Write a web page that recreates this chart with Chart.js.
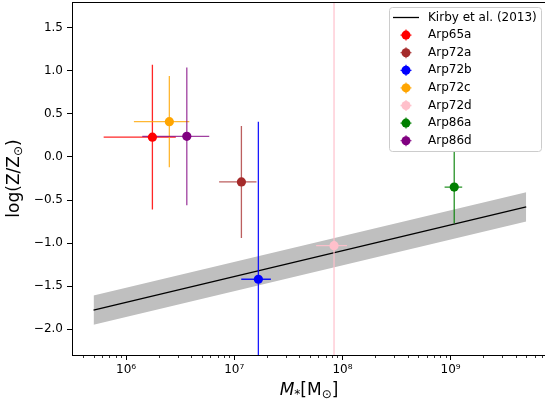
<!DOCTYPE html>
<html>
<head>
<meta charset="utf-8">
<script src="https://cdn.jsdelivr.net/npm/chart.js@4.4.1/dist/chart.umd.min.js"></script>
<style>
html, body { margin: 0; padding: 0; background: #fff; overflow: hidden; }
</style>
</head>
<body>
<canvas id="chart" width="545" height="407"></canvas>
<script>
// galaxies
const names = ['Arp65a', 'Arp72a', 'Arp72b', 'Arp72c', 'Arp72d', 'Arp86a', 'Arp86d'];
const colors = ['#ff0000', '#a52a2a', '#0000ff', '#ffa500', '#ffc0cb', '#008000', '#800080'];
const barColors = ['rgba(255,0,0,0.85)', 'rgba(165,42,42,0.75)', 'rgba(0,0,255,0.9)', 'rgba(255,165,0,0.8)',
    'rgba(255,192,203,0.9)', 'rgba(0,128,0,0.85)', 'rgba(128,0,128,0.75)'];
const mass = [1.75e6, 1.164e7, 1.67e7, 2.51e6, 8.36e7, 1.08e9, 3.64e6];
const massErr = [1.13e6, 4.4e6, 5.1e6, 1.33e6, 2.65e7, 2.0e8, 2.23e6];
const metal = [0.23, -0.29, -1.42, 0.41, -1.03, -0.35, 0.24];
const metalErr = [0.84, 0.65, 1.83, 0.53, 5.0, 0.42, 0.80];

// Kirby et al. (2013) relation and its scatter band
const kirbyMass = [5e5, 5e9];
const kirbyZ = [-1.78, -0.58];
const kirbyUpper = [-1.61, -0.41];
const kirbyLower = [-1.95, -0.75];

// axes
const xTickValues = [1e6, 1e7, 1e8, 1e9];
const xTickLabels = ['10\u2076', '10\u2077', '10\u2078', '10\u2079'];
const yTickValues = [-2.0, -1.5, -1.0, -0.5, 0.0, 0.5, 1.0, 1.5];
const xMin = 3.16e5, xMax = 7.46e9;
const yMin = -2.30, yMax = 1.80;

const FONT = "'DejaVu Sans', sans-serif";

function pts(xs, ys) {
    return xs.map((x, i) => ({ x: x, y: ys[i] }));
}

const datasets = [
    {
        label: 'Kirby et al. (2013)', data: pts(kirbyMass, kirbyZ), showLine: true,
        borderColor: '#000', borderWidth: 1.3, pointRadius: 0, fill: false, order: 5
    },
    {
        label: 'upper', data: pts(kirbyMass, kirbyUpper), showLine: true, borderWidth: 0,
        pointRadius: 0, backgroundColor: '#bfbfbf', fill: '+1', order: 10
    },
    {
        label: 'lower', data: pts(kirbyMass, kirbyLower), showLine: true, borderWidth: 0,
        pointRadius: 0, fill: false, order: 10
    }
];
names.forEach((n, i) => {
    datasets.push({
        label: n, data: [{ x: mass[i], y: metal[i] }],
        backgroundColor: colors[i], borderColor: colors[i], borderWidth: 0,
        pointRadius: 4.6, order: 0
    });
});

function drawParts(ctx, parts, cx, cy) {
    let total = 0;
    parts.forEach(p => { ctx.font = p.font; p.w = ctx.measureText(p.t).width; total += p.w; });
    let x = cx - total / 2;
    parts.forEach(p => {
        ctx.font = p.font;
        ctx.fillText(p.t, x, cy + (p.dy || 0));
        x += p.w;
    });
}

// error bars, drawn after the Kirby line and before the markers
const errorBars = {
    id: 'errorBars',
    afterDatasetDraw(chart, args) {
        if (args.index !== 0) return;
        const ctx = chart.ctx, xs = chart.scales.x, ys = chart.scales.y, a = chart.chartArea;
        ctx.save();
        ctx.beginPath();
        ctx.rect(a.left, a.top, a.right - a.left, a.bottom - a.top);
        ctx.clip();
        ctx.lineWidth = 1.3;
        names.forEach((n, i) => {
            const px = xs.getPixelForValue(mass[i]);
            const py = ys.getPixelForValue(metal[i]);
            ctx.strokeStyle = barColors[i];
            ctx.beginPath();
            ctx.moveTo(xs.getPixelForValue(mass[i] - massErr[i]), py);
            ctx.lineTo(xs.getPixelForValue(mass[i] + massErr[i]), py);
            ctx.moveTo(px, ys.getPixelForValue(metal[i] - metalErr[i]));
            ctx.lineTo(px, ys.getPixelForValue(metal[i] + metalErr[i]));
            ctx.stroke();
        });
        ctx.restore();
    }
};

const decorations = {
    id: 'decorations',
    afterDraw(chart) {
        const ctx = chart.ctx, xs = chart.scales.x, a = chart.chartArea;
        ctx.save();
        // top spine
        ctx.strokeStyle = '#000';
        ctx.lineWidth = 1;
        ctx.beginPath();
        ctx.moveTo(a.left, Math.round(a.top) + 0.5);
        ctx.lineTo(a.right, Math.round(a.top) + 0.5);
        ctx.stroke();
        // minor x ticks
        ctx.lineWidth = 0.8;
        ctx.beginPath();
        for (let d = 5; d <= 9; d++) {
            for (let k = 2; k <= 9; k++) {
                const v = k * Math.pow(10, d);
                if (v < xs.min || v > xs.max) continue;
                const p = Math.round(xs.getPixelForValue(v)) + 0.5;
                ctx.moveTo(p, a.bottom);
                ctx.lineTo(p, a.bottom + 3);
            }
        }
        ctx.stroke();

        // axis titles
        ctx.fillStyle = '#000';
        ctx.textBaseline = 'middle';
        ctx.textAlign = 'left';
        const big = '17px ' + FONT, small = '12px ' + FONT;
        drawParts(ctx, [
            { t: 'M', font: 'italic ' + big },
            { t: '*', font: small, dy: 4 },
            { t: '[M', font: big },
            { t: '\u2299', font: small, dy: 4 },
            { t: ']', font: big }
        ], 309, 391);
        ctx.save();
        ctx.translate(15, (a.top + a.bottom) / 2);
        ctx.rotate(-Math.PI / 2);
        drawParts(ctx, [
            { t: 'log(Z/Z', font: big },
            { t: '\u2299', font: small, dy: 4 },
            { t: ')', font: big }
        ], 0, 0);
        ctx.restore();

        // legend
        const lx = 389.5, ly = 7.5, lw = 152, lh = 144;
        ctx.fillStyle = 'rgba(255,255,255,0.8)';
        ctx.strokeStyle = '#cccccc';
        ctx.lineWidth = 1;
        ctx.beginPath();
        ctx.roundRect(lx, ly, lw, lh, 3);
        ctx.fill();
        ctx.stroke();
        const rowH = 17.6, firstY = 17.5, hx = 406, tx = 428;
        ctx.font = '12px ' + FONT;
        // line entry
        ctx.strokeStyle = '#000';
        ctx.lineWidth = 1.3;
        ctx.beginPath();
        ctx.moveTo(393, firstY);
        ctx.lineTo(419, firstY);
        ctx.stroke();
        ctx.fillStyle = '#000';
        ctx.fillText(datasets[0].label, tx, firstY);
        names.forEach((n, i) => {
            const y = firstY + rowH * (i + 1);
            ctx.strokeStyle = barColors[i];
            ctx.lineWidth = 1.3;
            ctx.beginPath();
            ctx.moveTo(hx - 5.5, y); ctx.lineTo(hx + 5.5, y);
            ctx.moveTo(hx, y - 5.5); ctx.lineTo(hx, y + 5.5);
            ctx.stroke();
            ctx.fillStyle = colors[i];
            ctx.beginPath();
            ctx.arc(hx, y, 4.5, 0, Math.PI * 2);
            ctx.fill();
            ctx.fillStyle = '#000';
            ctx.fillText(n, tx, y);
        });
        ctx.restore();
    }
};

function noPad(s) {
    s.paddingTop = 0;
    s.paddingBottom = 0;
    s.paddingLeft = 0;
    s.paddingRight = 0;
}

new Chart(document.getElementById('chart'), {
    type: 'scatter',
    data: { datasets: datasets },
    options: {
        responsive: false,
        animation: false,
        events: [],
        layout: { autoPadding: false, padding: { left: 0, top: 2, right: 0, bottom: 0 } },
        plugins: { legend: { display: false }, tooltip: { enabled: false } },
        scales: {
            x: {
                type: 'logarithmic', min: xMin, max: xMax,
                afterBuildTicks: s => { s.ticks = xTickValues.map(v => ({ value: v })); },
                afterFit: s => { s.height = 52; noPad(s); },
                ticks: {
                    autoSkip: false, maxRotation: 0, color: '#000', padding: 3,
                    font: { family: FONT, size: 12 },
                    callback: v => { const i = xTickValues.indexOf(v); return i >= 0 ? xTickLabels[i] : ''; }
                },
                grid: { drawOnChartArea: false, tickLength: 5, tickColor: '#000', tickWidth: 1 },
                border: { color: '#000', width: 1 }
            },
            y: {
                min: yMin, max: yMax,
                afterBuildTicks: s => { s.ticks = yTickValues.map(v => ({ value: v })); },
                afterFit: s => { s.width = 72; noPad(s); },
                ticks: {
                    autoSkip: false, color: '#000', padding: 4,
                    font: { family: FONT, size: 12 },
                    callback: v => (v < 0 ? '\u2212' : '') + Math.abs(v).toFixed(1)
                },
                grid: { drawOnChartArea: false, tickLength: 5, tickColor: '#000', tickWidth: 1 },
                border: { color: '#000', width: 1 }
            }
        }
    },
    plugins: [errorBars, decorations]
});
</script>
</body>
</html>
